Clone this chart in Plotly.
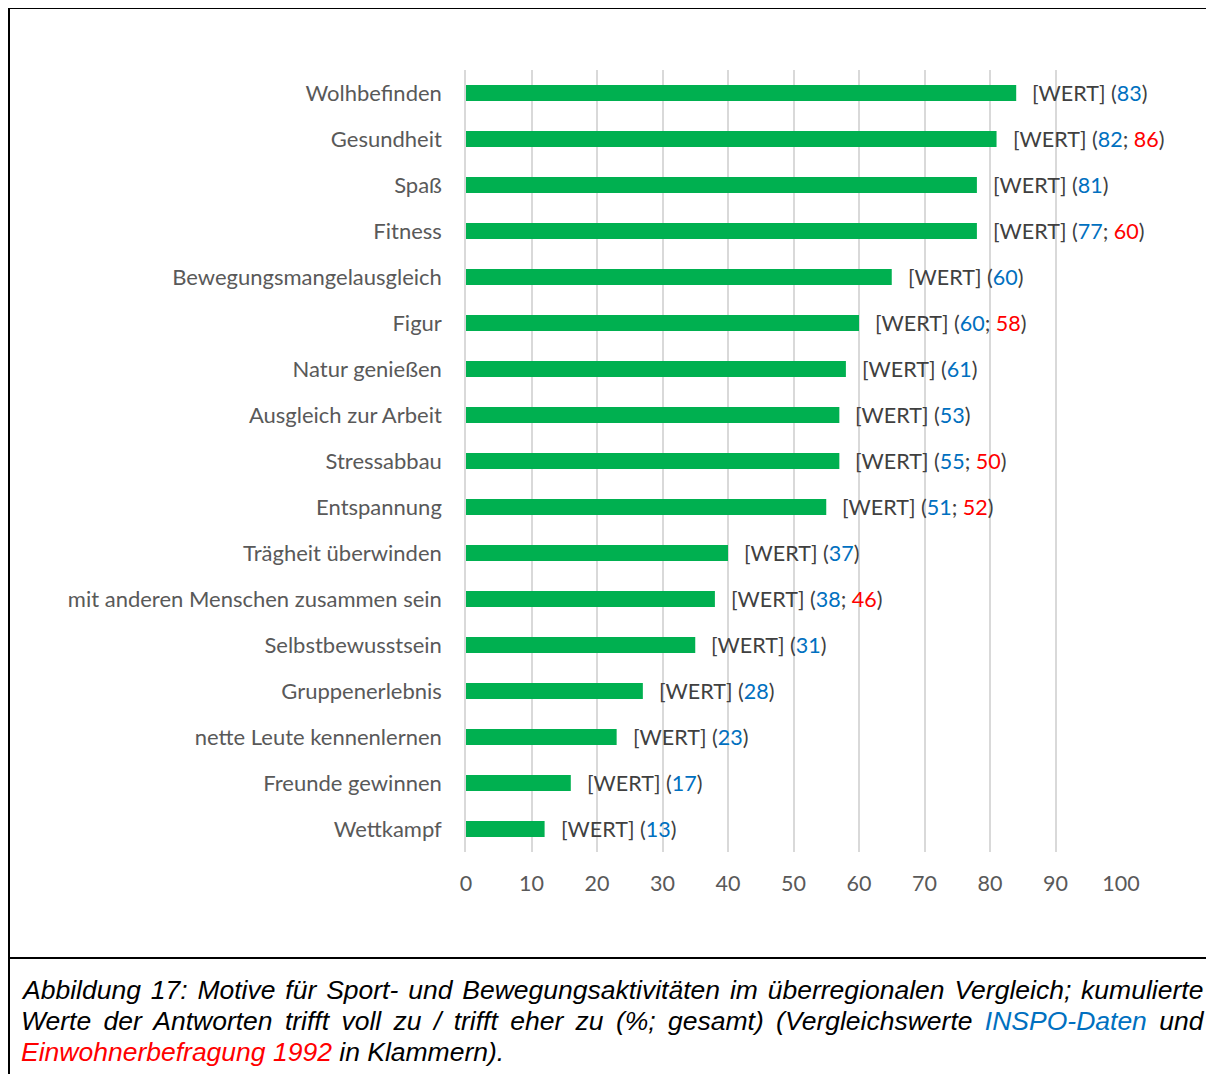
import plotly.graph_objects as go

# data (top to bottom as shown)
motive = ["Wolhbefinden", "Gesundheit", "Spaß", "Fitness", "Bewegungsmangelausgleich",
          "Figur", "Natur genießen", "Ausgleich zur Arbeit", "Stressabbau", "Entspannung",
          "Trägheit überwinden", "mit anderen Menschen zusammen sein", "Selbstbewusstsein",
          "Gruppenerlebnis", "nette Leute kennenlernen", "Freunde gewinnen", "Wettkampf"]
werte = [84, 81, 78, 78, 65, 60, 58, 57, 57, 55, 40, 38, 35, 27, 23, 16, 12]
inspo = [83, 82, 81, 77, 60, 60, 61, 53, 55, 51, 37, 38, 31, 28, 23, 17, 13]
befragung_1992 = [None, 86, None, 60, None, 58, None, None, 50, 52, None, 46, None, None, None, None, None]
x_ticks = [0, 10, 20, 30, 40, 50, 60, 70, 80, 90, 100]

# page is offset by the 8px body margin, so work in figure coordinates
W, H = 1206, 1066
L, R, T, B = 458, 93, 62, 222
BLUE, RED, GREEN, GREY = "#0070C0", "#FF0000", "#00B050", "#404040"


def px(x):
    return (x - L) / (W - L - R)


def py(y):
    return 1 - (y - T) / (H - T - B)


fig = go.Figure(go.Bar(
    x=werte, y=motive, orientation="h",
    marker=dict(color=GREEN, line=dict(width=0)),
))

for m, w, a, b in zip(motive, werte, inspo, befragung_1992):
    comp = f"<span style='color:{BLUE}'>{a}</span>"
    if b is not None:
        comp += f"; <span style='color:{RED}'>{b}</span>"
    fig.add_annotation(x=w, y=m, text=f"[WERT] ({comp})", showarrow=False,
                       xanchor="left", xshift=14, font=dict(size=21.5, color=GREY))

# frame
line = dict(color="black", width=2)
fig.add_shape(type="line", xref="paper", yref="paper", x0=px(0), x1=px(W), y0=py(0), y1=py(0), line=line)
fig.add_shape(type="line", xref="paper", yref="paper", x0=px(1), x1=px(1), y0=py(0), y1=py(H), line=line)
fig.add_shape(type="line", xref="paper", yref="paper", x0=px(0), x1=px(W), y0=py(950), y1=py(950), line=line)


def seg(txt, ws, color=None):
    st = f"word-spacing:{ws}px"
    if color:
        st = f"color:{color};" + st
    return f"<span style='{st}'>{txt}</span>"


caption = [
    seg("Abbildung 17: Motive für Sport- und Bewegungsaktivitäten im überregionalen Vergleich; kumulierte", 2.5),
    seg("Werte der Antworten trifft voll zu / trifft eher zu (%; gesamt) (Vergleichswerte ", 5)
    + seg("INSPO-Daten", 5, BLUE) + seg(" und", 5),
    seg("Einwohnerbefragung 1992", 0, RED) + " in Klammern).",
]
for i, c in enumerate(caption):
    fig.add_annotation(xref="paper", yref="paper", x=px(11), y=py(982 + 31 * i), text=c,
                       showarrow=False, xanchor="left", yanchor="middle",
                       font=dict(family="Liberation Sans, Arial", size=26.5, color="black", style="italic"))

fig.update_layout(
    width=W, height=H, margin=dict(l=L, r=R, t=T, b=B),
    plot_bgcolor="white", paper_bgcolor="white",
    font=dict(family="Lato, Open Sans, sans-serif", size=22, color="#595959"),
    bargap=0.65, showlegend=False,
    xaxis=dict(range=[0, 100], tickvals=x_ticks, showgrid=True, gridcolor="#D9D9D9", gridwidth=1.5,
               zeroline=False, showline=False, ticks="outside", ticklen=12, tickcolor="rgba(0,0,0,0)",
               tickfont=dict(size=21.5)),
    yaxis=dict(autorange="reversed", showgrid=False, zeroline=False, showline=True,
               linecolor="#D9D9D9", linewidth=1.5,
               ticks="outside", ticklen=18, tickcolor="rgba(0,0,0,0)"),
)

fig.write_html("out.html")
